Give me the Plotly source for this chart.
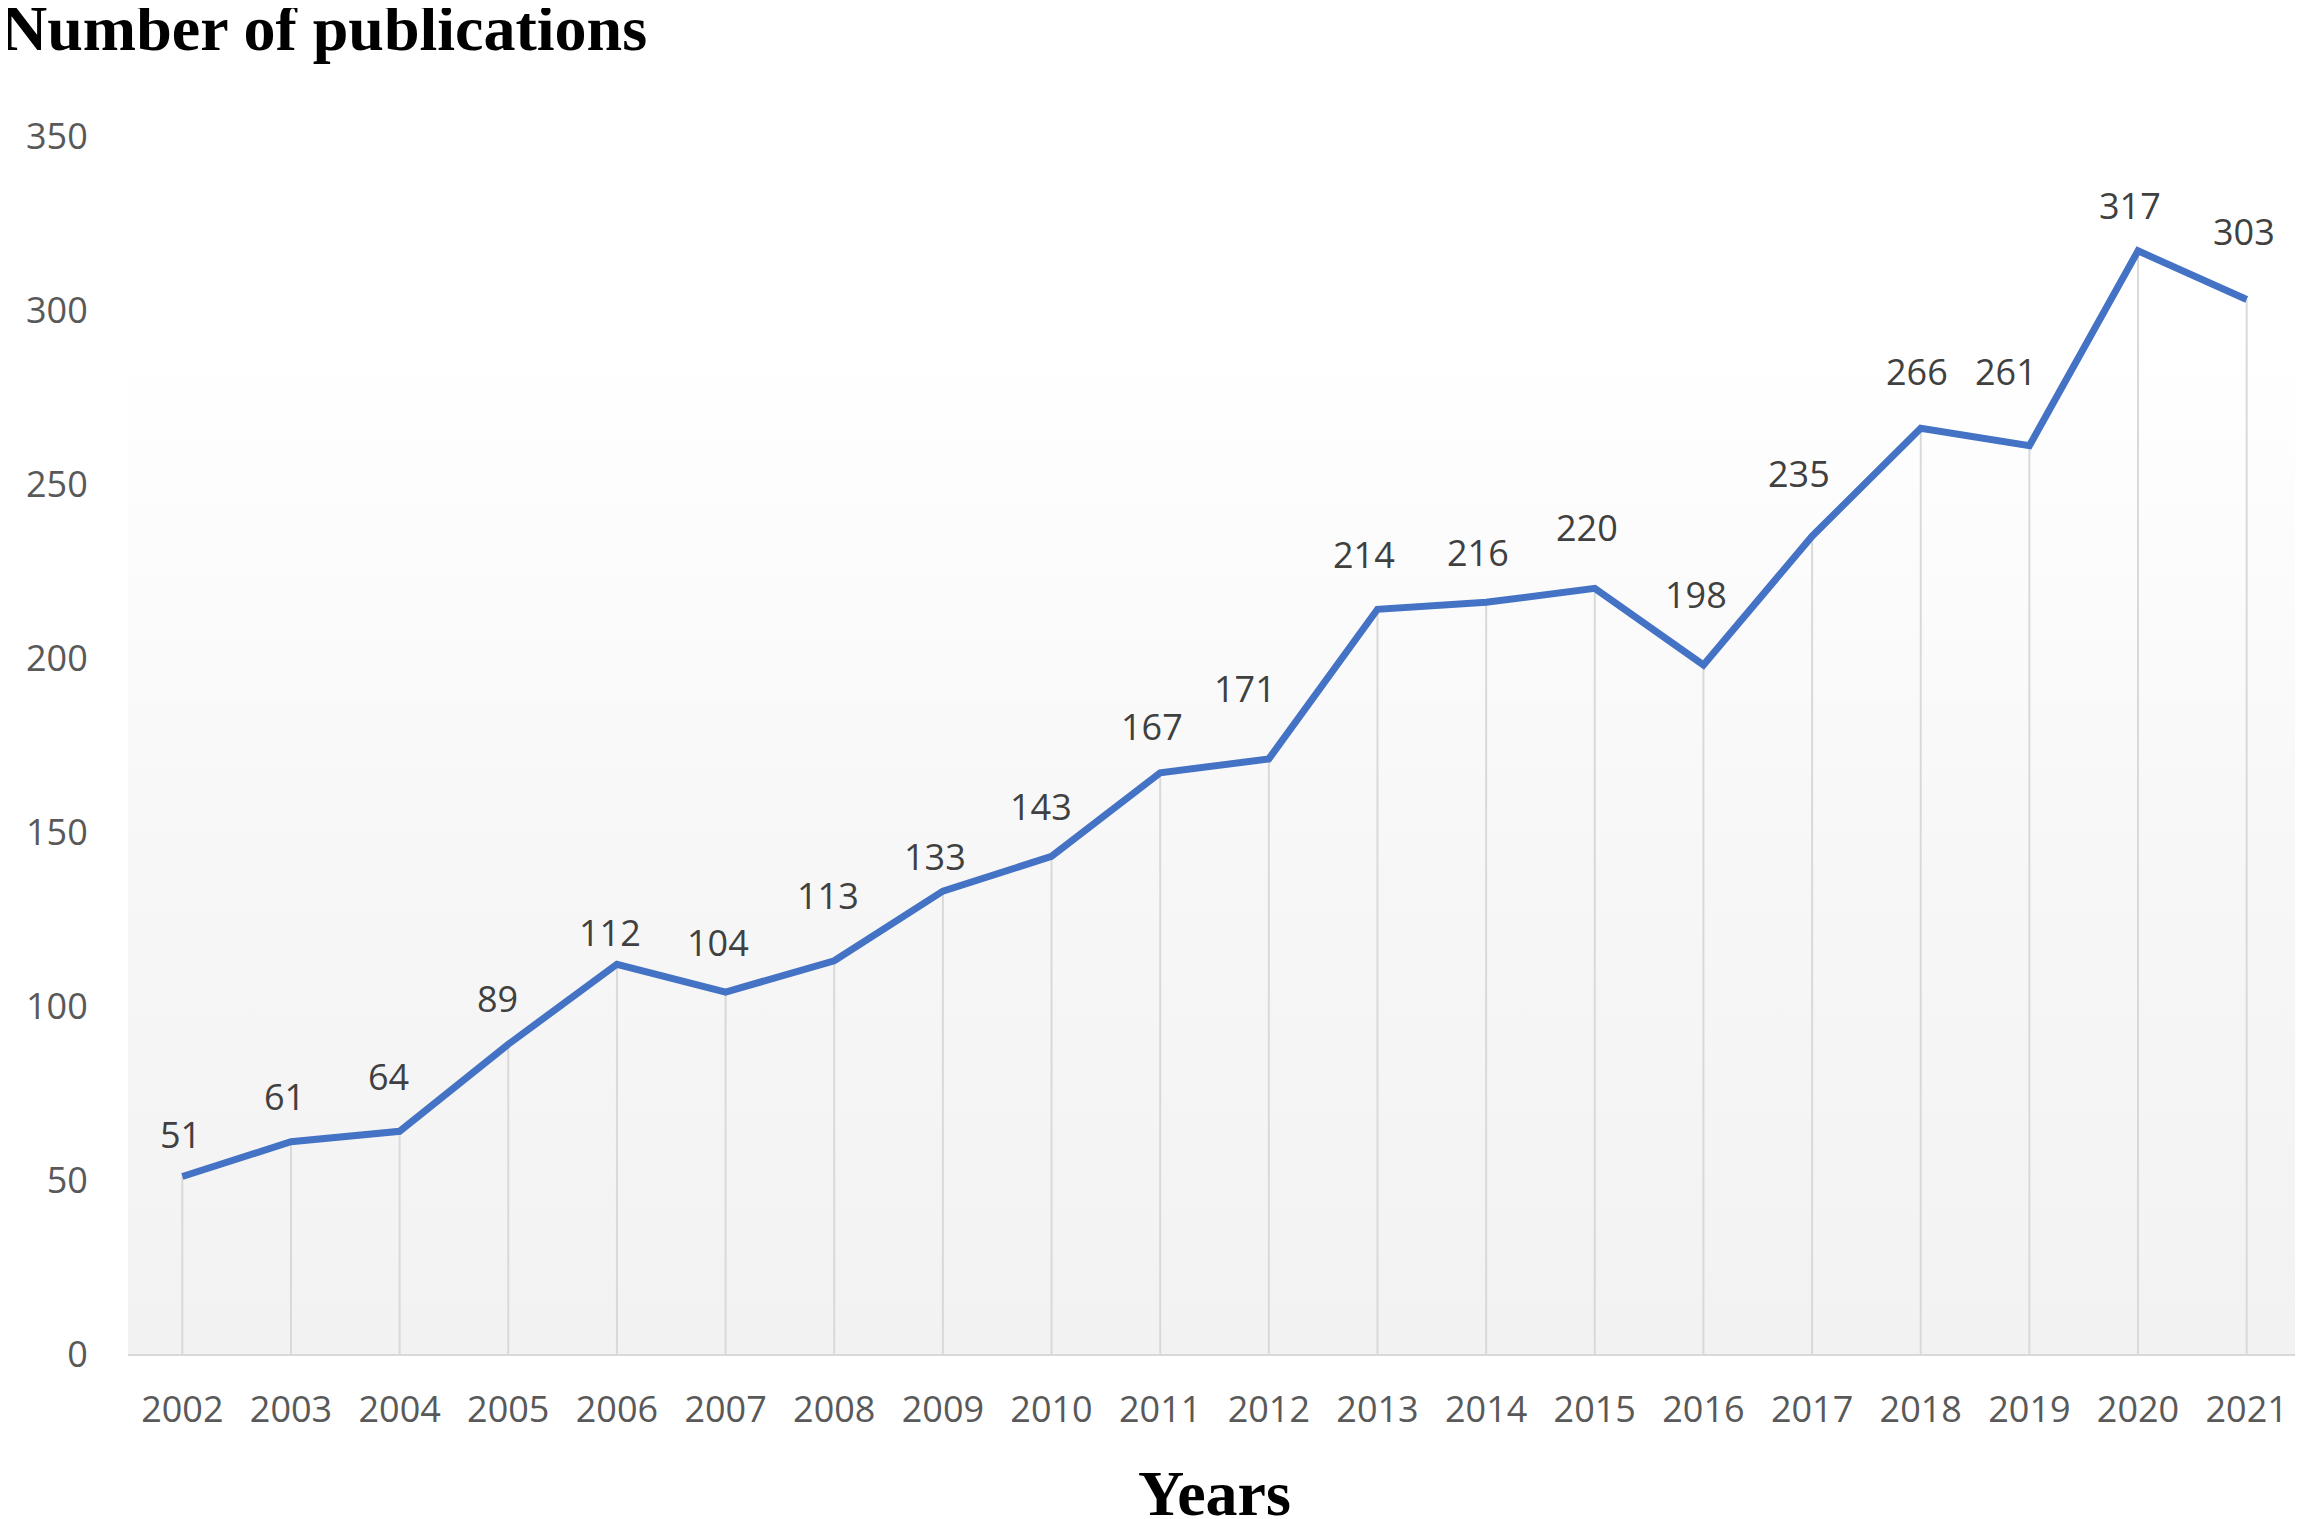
import plotly.graph_objects as go

years = [2002, 2003, 2004, 2005, 2006, 2007, 2008, 2009, 2010, 2011,
         2012, 2013, 2014, 2015, 2016, 2017, 2018, 2019, 2020, 2021]
publications = [51, 61, 64, 89, 112, 104, 113, 133, 143, 167,
                171, 214, 216, 220, 198, 235, 266, 261, 317, 303]
y_ticks = [0, 50, 100, 150, 200, 250, 300, 350]

# where each value label sits relative to its point (px), as in the original
label_lift = [42, 45, 55, 46, 32, 50, 65, 35, 50, 46,
              70, 55, 50, 61, 70, 63, 57, 74, 45, 68]
label_nudge = [-2, -6, -11, -11, -7, -8, -6, -8, -11, -8,
               -24, -13, -8, -8, -7, -13, -4, -23, -8, -3]

tick_font = dict(family="Open Sans", size=36, color="#595959")
label_font = dict(family="Open Sans", size=36, color="#404040")
serif_bold = dict(family="Liberation Serif", size=64, color="black")

W, H = 2303, 1519
m = dict(l=120, r=10, t=128, b=173)
plot_w = W - m["l"] - m["r"]
plot_h = H - m["t"] - m["b"]

x_lo, x_hi = years[0] - 0.5, years[-1] + 0.5
y_top = y_ticks[-1]

fig = go.Figure()

# plot area background, light gray at the bottom fading to white
fig.add_trace(go.Scatter(
    x=[x_lo, x_hi, x_hi, x_lo], y=[0, 0, y_top, y_top],
    fill="toself", mode="none", hoverinfo="skip",
    fillgradient=dict(type="vertical",
                      colorscale=[[0, "#f2f2f2"], [0.4, "#f7f7f7"],
                                  [0.83, "#ffffff"], [1, "#ffffff"]]),
))

# drop lines from each point to the axis
fig.add_trace(go.Scatter(
    x=years, y=publications, mode="markers",
    marker=dict(size=1, opacity=0), hoverinfo="skip",
    error_y=dict(type="data", symmetric=False,
                 array=[0] * len(publications), arrayminus=publications,
                 width=0, thickness=2, color="#d9d9d9"),
))

fig.add_trace(go.Scatter(
    x=years, y=publications, mode="lines",
    line=dict(color="#4472c4", width=7),
))

for yr, n, dy, dx in zip(years, publications, label_lift, label_nudge):
    fig.add_annotation(x=yr, y=n, text=str(n), showarrow=False,
                       yshift=dy, xshift=dx, font=label_font)

fig.add_annotation(text="<b>Number of publications</b>",
                   xref="paper", yref="paper",
                   x=-m["l"] / plot_w, y=1 + m["t"] / plot_h,
                   xanchor="left", yanchor="top", yshift=17, xshift=-9,
                   showarrow=False, font=serif_bold)

fig.add_annotation(text="<b>Years</b>", xref="paper", yref="paper",
                   x=0.5, y=-m["b"] / plot_h, xanchor="center",
                   yanchor="bottom", yshift=-4, showarrow=False,
                   font=serif_bold)

fig.update_layout(
    width=W, height=H, margin=m,
    paper_bgcolor="white", plot_bgcolor="white",
    showlegend=False,
)
fig.update_xaxes(range=[x_lo, x_hi], tickvals=years, tickfont=tick_font,
                 showgrid=False, zeroline=False, showline=True,
                 linecolor="#d9d9d9", linewidth=2,
                 ticks="outside", ticklen=23, tickcolor="rgba(0,0,0,0)")
fig.update_yaxes(range=[0, y_top], tickvals=y_ticks, tickfont=tick_font,
                 showgrid=False, zeroline=False, showline=False,
                 ticks="outside", ticklen=32, tickcolor="rgba(0,0,0,0)")

fig.write_html("out.html")
